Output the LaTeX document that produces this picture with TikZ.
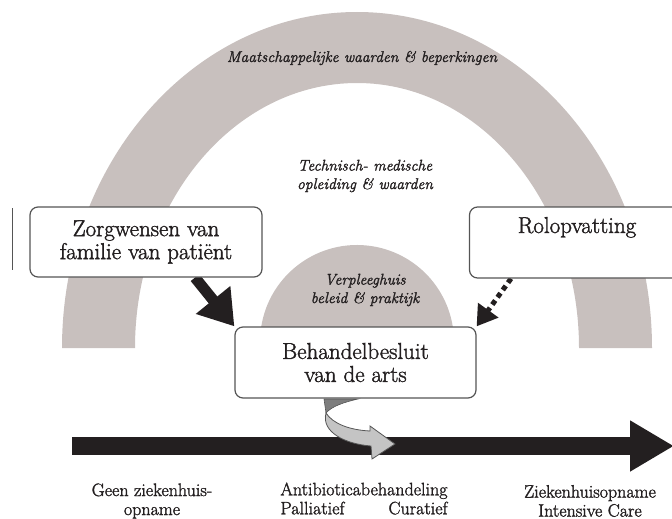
\documentclass[tikz,border=0pt]{standalone}
\usepackage{fontspec}
\setmainfont{Latin Modern Roman}[FakeBold=1.6]
\usetikzlibrary{arrows.meta,calc,backgrounds}
\definecolor{archgrey}{RGB}{200,192,190}
\definecolor{boxline}{RGB}{85,85,85}
\definecolor{inkgrey}{RGB}{35,31,32}
\definecolor{twistlight}{RGB}{196,196,196}
\definecolor{twistdark}{RGB}{125,125,125}
\tikzset{
  boxnode/.style = {draw=boxline, fill=white, rounded corners=8pt,
    line width=1.2pt, align=center, text=inkgrey,
    font=\fontsize{23}{23}\selectfont},
  archlabel/.style = {align=center, text=inkgrey,
    font=\fontsize{15.5}{18.5}\selectfont\itshape},
  scalelabel/.style = {align=center, text=inkgrey,
    font=\fontsize{18}{19}\selectfont},
  fatarrow/.style = {line width=#1, draw=inkgrey}
}

\begin{document}
\begin{tikzpicture}[x=1pt, y=-1pt]
\useasboundingbox (0,0) rectangle (672,519);
\node [boxnode, minimum width=232pt, minimum height=70pt] (zorg) at (146,242)
  {Zorgwensen van\\familie van patiënt};
\node [boxnode, minimum width=215pt, text height=21pt, text depth=40pt,
  inner ysep=5pt] (rol) at (577,242.5) {Rolopvatting};
\node [boxnode, minimum width=241pt, minimum height=71pt] (besluit) at (355.5,362.5)
  {Behandelbesluit\\van de arts};
\node [archlabel] (society) at (362,58) {Maatschappelijke waarden \& beperkingen};
\node [archlabel] (training) at (365,176) {Technisch- medische\\opleiding \& waarden};
\node [archlabel] (home) at (365,290) {Verpleeghuis\\beleid \& praktijk};
\node [scalelabel] (nohosp) at (152,501) {Geen ziekenhuis-\\opname};
\node [scalelabel] (anti) at (364,501)
  {\begin{tabular}{@{}l@{}r@{}}\multicolumn{2}{@{}c@{}}{Antibioticabehandeling}\\
   Palliatief & Curatief\end{tabular}};
\node [scalelabel] (hosp) at (590,501) {Ziekenhuisopname\\Intensive Care};
\coordinate (scalestart) at (72,446);
\coordinate (scaleend) at (674,446);
\coordinate (edgetop) at (12,208);
\coordinate (edgebot) at (12,270);

\begin{scope}[on background layer]
\fill [archgrey] (62,348) arc[start angle=180, end angle=0, x radius=295pt, y radius=336pt]
  -- (579,348) arc[start angle=0, end angle=180, x radius=222pt, y radius=265pt] -- cycle;
\fill [archgrey] (357,342) ++(171.1:97pt) arc[start angle=171.1, end angle=8.9, radius=97pt] -- cycle;
\draw [fatarrow=11pt, -{Triangle[length=34pt,width=42pt]}]
  ($(zorg.south)+(49,0)$) -- (besluit.north west);
\draw [fatarrow=5pt, dash pattern=on 5pt off 4pt, -{Triangle[length=20pt,width=24pt]}]
  ($(rol.south)+(-66,0)$) -- (besluit.north east);
\draw [fatarrow=18pt, -{Triangle[length=44pt,width=48pt]}] (scalestart) -- (scaleend);
\filldraw [fill=twistdark, draw=boxline, line width=0.6pt]
  (324,399) -- (358,399) .. controls (345,402) and (332,406) .. (326,413) -- cycle;
\filldraw [fill=twistlight, draw=boxline, line width=0.8pt]
  (326,413) .. controls (321,432) and (345,444) .. (371,446) -- (372,459) -- (395,444)
  -- (370,426) -- (370,431) .. controls (350,430) and (333,424) .. (326,413) -- cycle;
\draw [boxline, line width=1pt] (edgetop) -- (edgebot);
\end{scope}
\end{tikzpicture}
\end{document}
